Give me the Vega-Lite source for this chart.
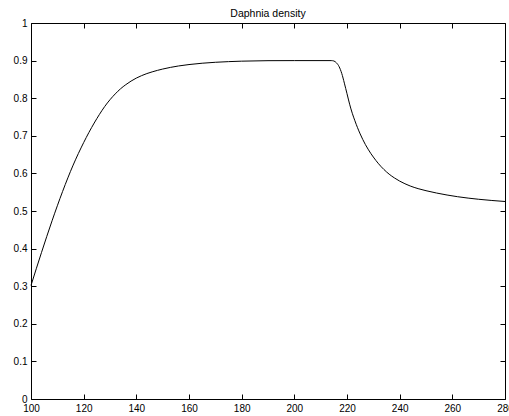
{
  "$schema": "https://vega.github.io/schema/vega-lite/v6.json",
  "width": 474,
  "height": 376,
  "autosize": {"type": "none"},
  "padding": {"left": 31, "top": 23, "right": 4, "bottom": 17},
  "background": "white",
  "title": {"text": "Daphnia density", "fontSize": 10.5, "font": "Liberation Sans", "fontWeight": "normal", "color": "black", "anchor": "middle", "offset": -1},
  "config": {
    "view": {"stroke": null},
    "axis": {
      "grid": false,
      "domainColor": "black",
      "domainWidth": 1,
      "tickColor": "black",
      "tickWidth": 1,
      "tickSize": -5,
      "labelFont": "Liberation Sans",
      "labelFontSize": 10,
      "labelColor": "black",
      "labelFlush": false,
      "labelOverlap": false,
      "title": null
    }
  },
  "data": {"values": [
    {"t": 100, "v": 0.302}, {"t": 104, "v": 0.39}, {"t": 108, "v": 0.474}, {"t": 112, "v": 0.552},
    {"t": 116, "v": 0.622}, {"t": 120, "v": 0.682}, {"t": 124, "v": 0.734}, {"t": 126, "v": 0.757},
    {"t": 128, "v": 0.778}, {"t": 130, "v": 0.796}, {"t": 132, "v": 0.8115}, {"t": 134, "v": 0.825},
    {"t": 136, "v": 0.836}, {"t": 138, "v": 0.8455}, {"t": 140, "v": 0.8535}, {"t": 142, "v": 0.86},
    {"t": 144, "v": 0.8655}, {"t": 146, "v": 0.87}, {"t": 148, "v": 0.874}, {"t": 150, "v": 0.8775},
    {"t": 153, "v": 0.882}, {"t": 156, "v": 0.8857}, {"t": 160, "v": 0.8895}, {"t": 165, "v": 0.893},
    {"t": 170, "v": 0.8955}, {"t": 180, "v": 0.8985}, {"t": 190, "v": 0.8998}, {"t": 200, "v": 0.9},
    {"t": 214, "v": 0.9}, {"t": 215, "v": 0.899}, {"t": 216, "v": 0.894}, {"t": 217, "v": 0.884},
    {"t": 218, "v": 0.866}, {"t": 219, "v": 0.84}, {"t": 220, "v": 0.812}, {"t": 221, "v": 0.784},
    {"t": 222, "v": 0.76}, {"t": 223, "v": 0.74}, {"t": 224, "v": 0.7215}, {"t": 225, "v": 0.705},
    {"t": 226, "v": 0.69}, {"t": 227, "v": 0.6765}, {"t": 228, "v": 0.6645}, {"t": 229, "v": 0.6535},
    {"t": 230, "v": 0.6435}, {"t": 232, "v": 0.6255}, {"t": 234, "v": 0.6105}, {"t": 236, "v": 0.598},
    {"t": 238, "v": 0.588}, {"t": 240, "v": 0.5795}, {"t": 242, "v": 0.5725}, {"t": 244, "v": 0.5665},
    {"t": 247, "v": 0.5595}, {"t": 250, "v": 0.554}, {"t": 254, "v": 0.5478}, {"t": 258, "v": 0.5425},
    {"t": 262, "v": 0.538}, {"t": 266, "v": 0.5343}, {"t": 270, "v": 0.5312}, {"t": 275, "v": 0.528},
    {"t": 280, "v": 0.5253}
  ]},
  "layer": [
    {
      "mark": {"type": "line", "color": "black", "strokeWidth": 1, "interpolate": "monotone"},
      "encoding": {
        "x": {"field": "t", "type": "quantitative", "scale": {"domain": [100, 280], "nice": false, "zero": false},
              "axis": {"orient": "bottom", "values": [100, 120, 140, 160, 180, 200, 220, 240, 260, 280], "labelPadding": 9}},
        "y": {"field": "v", "type": "quantitative", "scale": {"domain": [0, 1], "nice": false},
              "axis": {"orient": "left", "values": [0, 0.1, 0.2, 0.3, 0.4, 0.5, 0.6, 0.7, 0.8, 0.9, 1], "format": "~g", "labelPadding": 9}}
      }
    },
    {
      "mark": {"type": "line", "opacity": 0},
      "encoding": {
        "x": {"field": "t", "type": "quantitative",
              "axis": {"orient": "top", "values": [100, 120, 140, 160, 180, 200, 220, 240, 260, 280], "labels": false}},
        "y": {"field": "v", "type": "quantitative",
              "axis": {"orient": "right", "values": [0, 0.1, 0.2, 0.3, 0.4, 0.5, 0.6, 0.7, 0.8, 0.9, 1], "labels": false}}
      }
    }
  ],
  "resolve": {"axis": {"x": "independent", "y": "independent"}}
}
